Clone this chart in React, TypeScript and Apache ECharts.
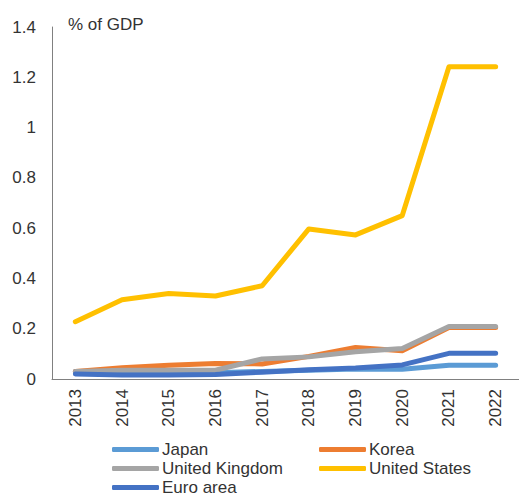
import React, { useEffect, useRef } from "react";
import * as echarts from "echarts";

const years = ["2013", "2014", "2015", "2016", "2017", "2018", "2019", "2020", "2021", "2022"];
const japan = [0.03, 0.025, 0.025, 0.025, 0.03, 0.035, 0.04, 0.039, 0.055, 0.055];
const korea = [0.03, 0.045, 0.055, 0.062, 0.06, 0.09, 0.125, 0.112, 0.205, 0.205];
const unitedKingdom = [0.03, 0.035, 0.035, 0.035, 0.08, 0.088, 0.108, 0.121, 0.209, 0.209];
const unitedStates = [0.228, 0.315, 0.34, 0.33, 0.371, 0.597, 0.573, 0.65, 1.242, 1.242];
const euroArea = [0.02, 0.016, 0.016, 0.018, 0.027, 0.037, 0.044, 0.056, 0.102, 0.102];

const seriesNames = ["Japan", "Korea", "United Kingdom", "United States", "Euro area"];
const seriesColors = ["#5B9BD5", "#ED7D31", "#A5A5A5", "#FFC000", "#4472C4"];
const seriesData = [japan, korea, unitedKingdom, unitedStates, euroArea];

const FONT = "Liberation Sans, Arial, sans-serif";
const TEXT = "#333333";

export default function App() {
  const ref = useRef<HTMLDivElement>(null);
  useEffect(() => {
    if (!ref.current) return;
    const chart = echarts.init(ref.current, undefined, { renderer: "svg" });
    const legendCommon = {
      orient: "vertical" as const,
      icon: "roundRect",
      itemWidth: 47,
      itemHeight: 5,
      itemGap: 2,
      padding: 0,
      height: 70,
      textStyle: { fontFamily: FONT, fontSize: 17, color: TEXT, padding: [0, 0, 0, -2] },
      top: 441,
    };
    chart.setOption({
      animation: false,
      textStyle: { fontFamily: FONT },
      grid: { left: 52, right: -4, top: 27, bottom: 118, containLabel: false },
      graphic: [
        {
          type: "text",
          left: 68,
          top: 16,
          style: { text: "% of GDP", font: `17px ${FONT}`, fill: TEXT },
        },
      ],
      legend: [
        { ...legendCommon, left: 112, data: ["Japan", "United Kingdom", "Euro area"] },
        { ...legendCommon, left: 319, data: ["Korea", "United States"] },
      ],
      xAxis: {
        type: "category",
        data: years,
        boundaryGap: true,
        axisLine: { lineStyle: { color: "#808080", width: 1 } },
        axisTick: { show: false },
        axisLabel: { rotate: 90, margin: 10, fontSize: 17, color: TEXT, fontFamily: FONT },
      },
      yAxis: {
        type: "value",
        min: 0,
        max: 1.4,
        interval: 0.2,
        axisLine: { show: true, lineStyle: { color: "#808080", width: 1 } },
        axisTick: { show: false },
        splitLine: { show: false },
        axisLabel: { margin: 16, fontSize: 17, color: TEXT, fontFamily: FONT },
      },
      series: seriesNames.map((name, i) => ({
        name,
        type: "line",
        data: seriesData[i],
        symbol: "none",
        color: seriesColors[i],
        lineStyle: { width: 5, color: seriesColors[i], cap: "round", join: "round" },
      })),
    });
    return () => chart.dispose();
  }, []);
  return <div ref={ref} style={{ width: 519, height: 497, position: "absolute", left: 0, top: 0 }} />;
}
